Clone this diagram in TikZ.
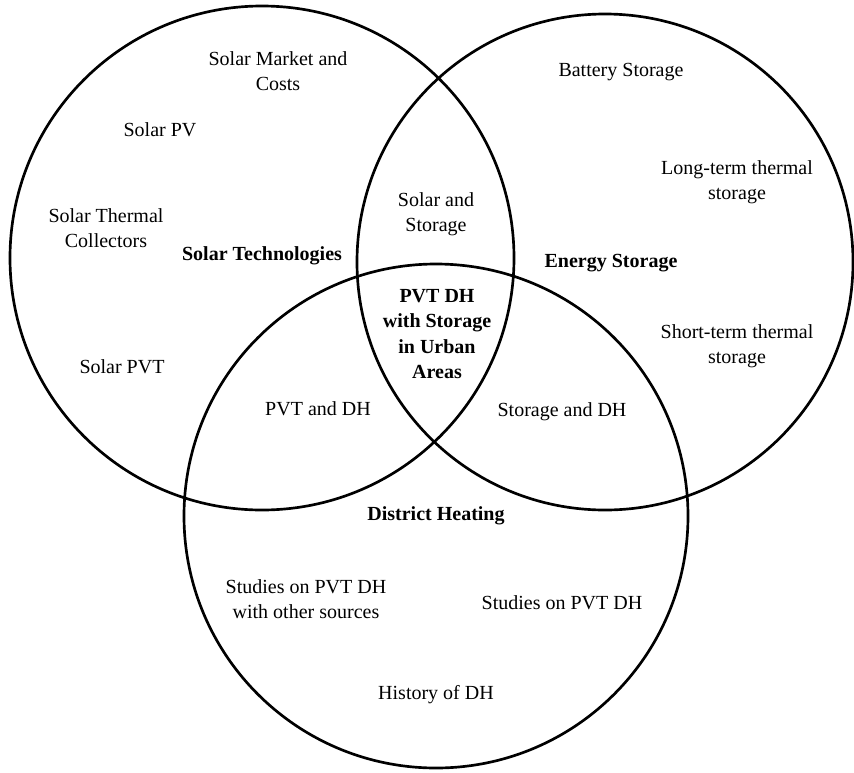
\documentclass[tikz,border=0pt]{standalone}
\usepackage{fontspec}
\setmainfont{Liberation Serif}
\begin{document}
\begin{tikzpicture}[x=0.75pt,y=-0.75pt,
  ring/.style={draw=black,line width=2pt},
  lbl/.style={align=center,font=\fontsize{15}{18.5}\selectfont,inner sep=0pt},
  head/.style={lbl,font=\fontsize{15}{19}\selectfont\bfseries}]
\useasboundingbox (0,0) rectangle (854,772);
\node[ring,circle,minimum size=504*0.75pt,inner sep=0pt] (solar) at (262,258) {};
\node[ring,circle,minimum size=496*0.75pt,inner sep=0pt] (store) at (605,262) {};
\node[ring,circle,minimum size=504*0.75pt,inner sep=0pt] (dh) at (436,516) {};

\node[lbl] (smc) at (278,71) {Solar Market and\\Costs};
\node[lbl] (spv) at (160,130) {Solar PV};
\node[lbl] (stc) at (106,228) {Solar Thermal\\Collectors};
\node[head] (st) at (262,256) {Solar Technologies};
\node[lbl] (spvt) at (122,367) {Solar PVT};
\node[lbl] (sas) at (436,214) {Solar and\\Storage};
\node[head] (core) at (437,334) {PVT DH\\with Storage\\in Urban\\Areas};
\node[lbl] (bat) at (621,72) {Battery Storage};
\node[lbl] (lts) at (737,182) {Long-term thermal\\storage};
\node[head] (es) at (611,263) {Energy Storage};
\node[lbl] (sts) at (737,346) {Short-term thermal\\storage};
\node[lbl] (pvtdh) at (318,409) {PVT and DH};
\node[lbl] (sdh) at (562,412) {Storage and DH};
\node[head] (dhh) at (436,516) {District Heating};
\node[lbl] (sos) at (306,599) {Studies on PVT DH\\with other sources};
\node[lbl] (spd) at (562,603) {Studies on PVT DH};
\node[lbl] (hist) at (436,695) {History of DH};
\end{tikzpicture}
\end{document}
